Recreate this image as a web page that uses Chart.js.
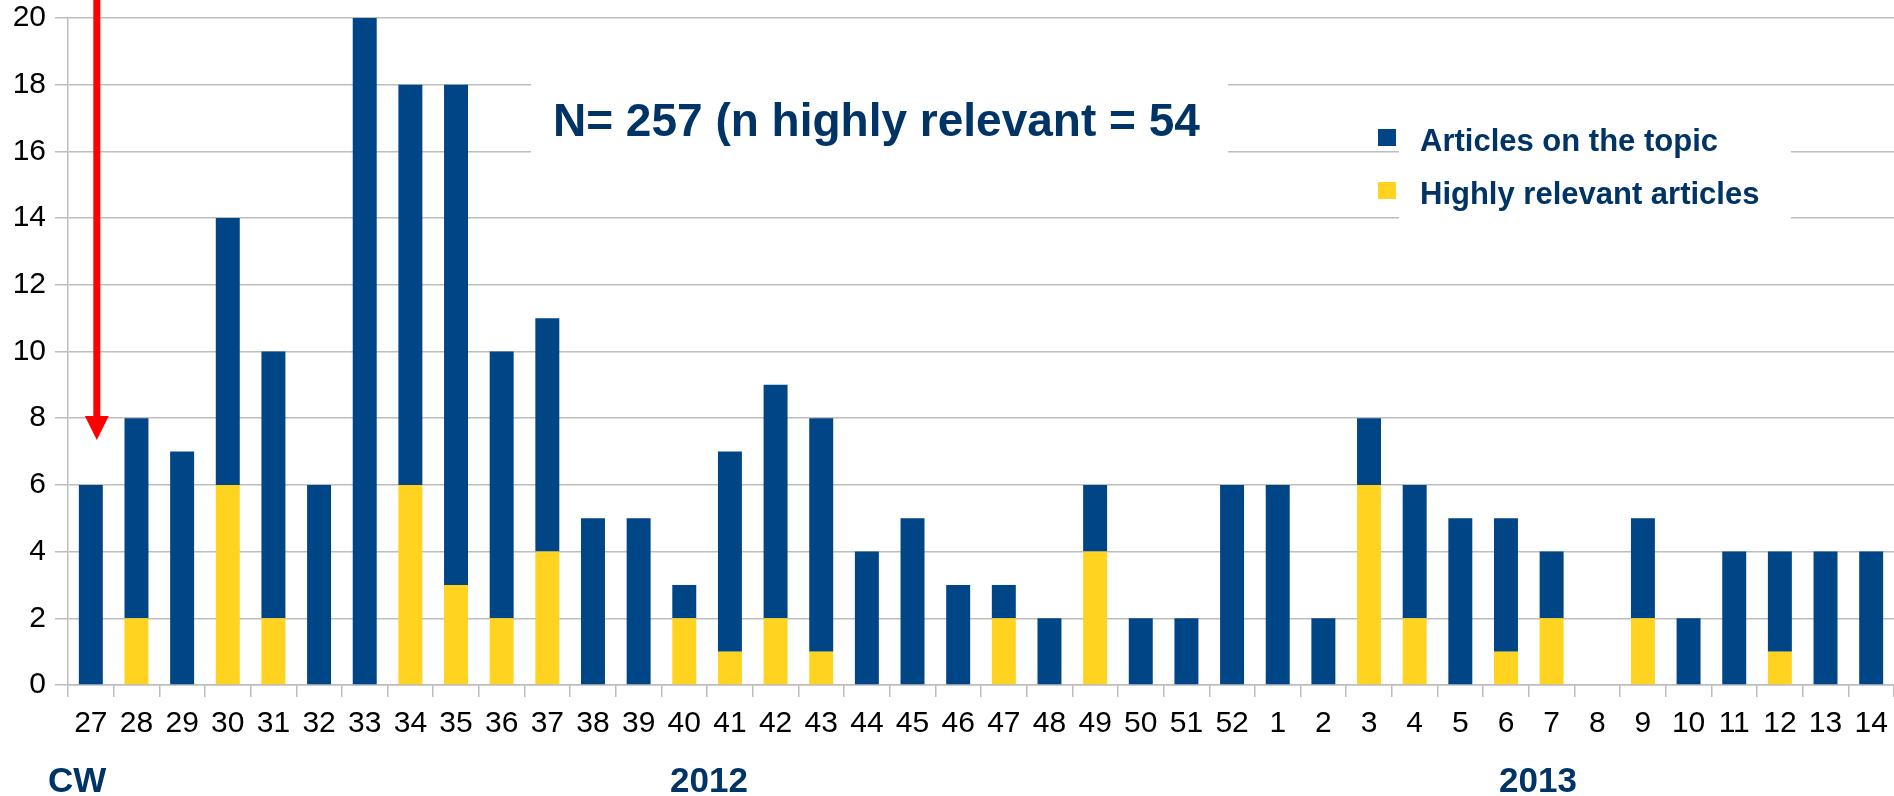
<!DOCTYPE html>
<html>
<head>
<meta charset="utf-8">
<script src="https://cdn.jsdelivr.net/npm/chart.js@4/dist/chart.umd.min.js"></script>
<style>
  html, body { margin: 0; padding: 0; background: #fff; }
  #wrap { width: 1894px; height: 796px; }
</style>
</head>
<body>
<div id="wrap"><canvas id="chart" width="1894" height="796"></canvas></div>
<script>
// calendar weeks (CW) 27/2012 .. 14/2013
const weeks = ["27","28","29","30","31","32","33","34","35","36","37","38","39","40","41","42","43","44","45","46","47","48","49","50","51","52","1","2","3","4","5","6","7","8","9","10","11","12","13","14"];
// total articles on the topic per week
const totalArticles = [6,8,7,14,10,6,20,18,18,10,11,5,5,3,7,9,8,4,5,3,3,2,6,2,2,6,6,2,8,6,5,5,4,0,5,2,4,4,4,4];
// of which highly relevant
const highlyRelevant = [0,2,0,6,2,0,0,6,3,2,4,0,0,2,1,2,1,0,0,0,2,0,4,0,0,0,0,0,6,2,0,1,2,0,2,0,0,1,0,0];
const yMax = 20;
const yStep = 2;

const titleText = "N= 257 (n highly relevant = 54";
const blue = "#004586";
const yellow = "#ffd320";
const navy = "#003366";
const gridColor = "#bdbdbd";
const font = '"Liberation Sans", Arial, sans-serif';

// blue part sits on top of the yellow part, so the full bar = all articles
const otherArticles = totalArticles.map((t, i) => t - highlyRelevant[i]);

const overlay = {
  id: "overlay",
  afterDraw(chart) {
    const { ctx, scales: { y } } = chart;
    ctx.save();

    // white boxes behind title and legend
    ctx.fillStyle = "#fff";
    ctx.fillRect(531, 75, 697, 90);
    ctx.fillRect(1399, 95, 392, 132);

    ctx.fillStyle = navy;
    ctx.textBaseline = "alphabetic";
    ctx.font = "bold 46px " + font;
    ctx.fillText(titleText, 553, 136);

    // legend
    const items = [chart.data.datasets[1], chart.data.datasets[0]];
    ctx.font = "bold 31px " + font;
    items.forEach((ds, i) => {
      const base = 151 + i * 53;
      ctx.fillStyle = ds.backgroundColor;
      ctx.fillRect(1378, base - 22, 18, 17);
      ctx.fillStyle = navy;
      ctx.fillText(ds.label, 1420, base);
    });

    // axis captions
    ctx.font = "bold 35px " + font;
    ctx.fillText("CW", 48, 792);
    ctx.textAlign = "center";
    ctx.fillText("2012", 709, 792);
    ctx.fillText("2013", 1538, 792);

    // red arrow pointing at the first week
    const ax = chart.getDatasetMeta(1).data[0].x + 6;
    const tip = y.getPixelForValue(7.35);
    ctx.strokeStyle = "#ff0000";
    ctx.fillStyle = "#ff0000";
    ctx.lineWidth = 7;
    ctx.beginPath();
    ctx.moveTo(ax, 0);
    ctx.lineTo(ax, tip - 22);
    ctx.stroke();
    ctx.beginPath();
    ctx.moveTo(ax - 12, tip - 24);
    ctx.lineTo(ax + 12, tip - 24);
    ctx.lineTo(ax, tip);
    ctx.closePath();
    ctx.fill();

    ctx.restore();
  }
};

new Chart(document.getElementById("chart"), {
  type: "bar",
  data: {
    labels: weeks,
    datasets: [
      {
        label: "Highly relevant articles",
        data: highlyRelevant,
        backgroundColor: yellow,
        categoryPercentage: 0.525,
        barPercentage: 1
      },
      {
        label: "Articles on the topic",
        data: otherArticles,
        backgroundColor: blue,
        categoryPercentage: 0.525,
        barPercentage: 1
      }
    ]
  },
  options: {
    responsive: false,
    animation: false,
    layout: { padding: { top: 18, right: 0, bottom: 0, left: 0 } },
    plugins: { legend: { display: false }, tooltip: { enabled: false } },
    scales: {
      x: {
        stacked: true,
        grid: { drawOnChartArea: false, tickLength: 12, color: gridColor, lineWidth: 1.5 },
        border: { color: gridColor, width: 1.5 },
        ticks: { color: "#000", font: { family: font, size: 30 }, padding: 9, maxRotation: 0, autoSkip: false },
        afterFit(scale) {
          scale.height = 111;
          scale.paddingLeft = 0;
          scale.paddingRight = 0;
        }
      },
      y: {
        stacked: true,
        min: 0,
        max: yMax,
        grid: { color: gridColor, lineWidth: 1.5, tickLength: 13 },
        border: { color: gridColor, width: 1.5 },
        ticks: { stepSize: yStep, color: "#000", font: { family: font, size: 30 }, padding: 9 },
        afterFit(scale) {
          scale.width = 68;
          scale.paddingTop = 0;
          scale.paddingBottom = 0;
        }
      }
    }
  },
  plugins: [overlay]
});
</script>
</body>
</html>
